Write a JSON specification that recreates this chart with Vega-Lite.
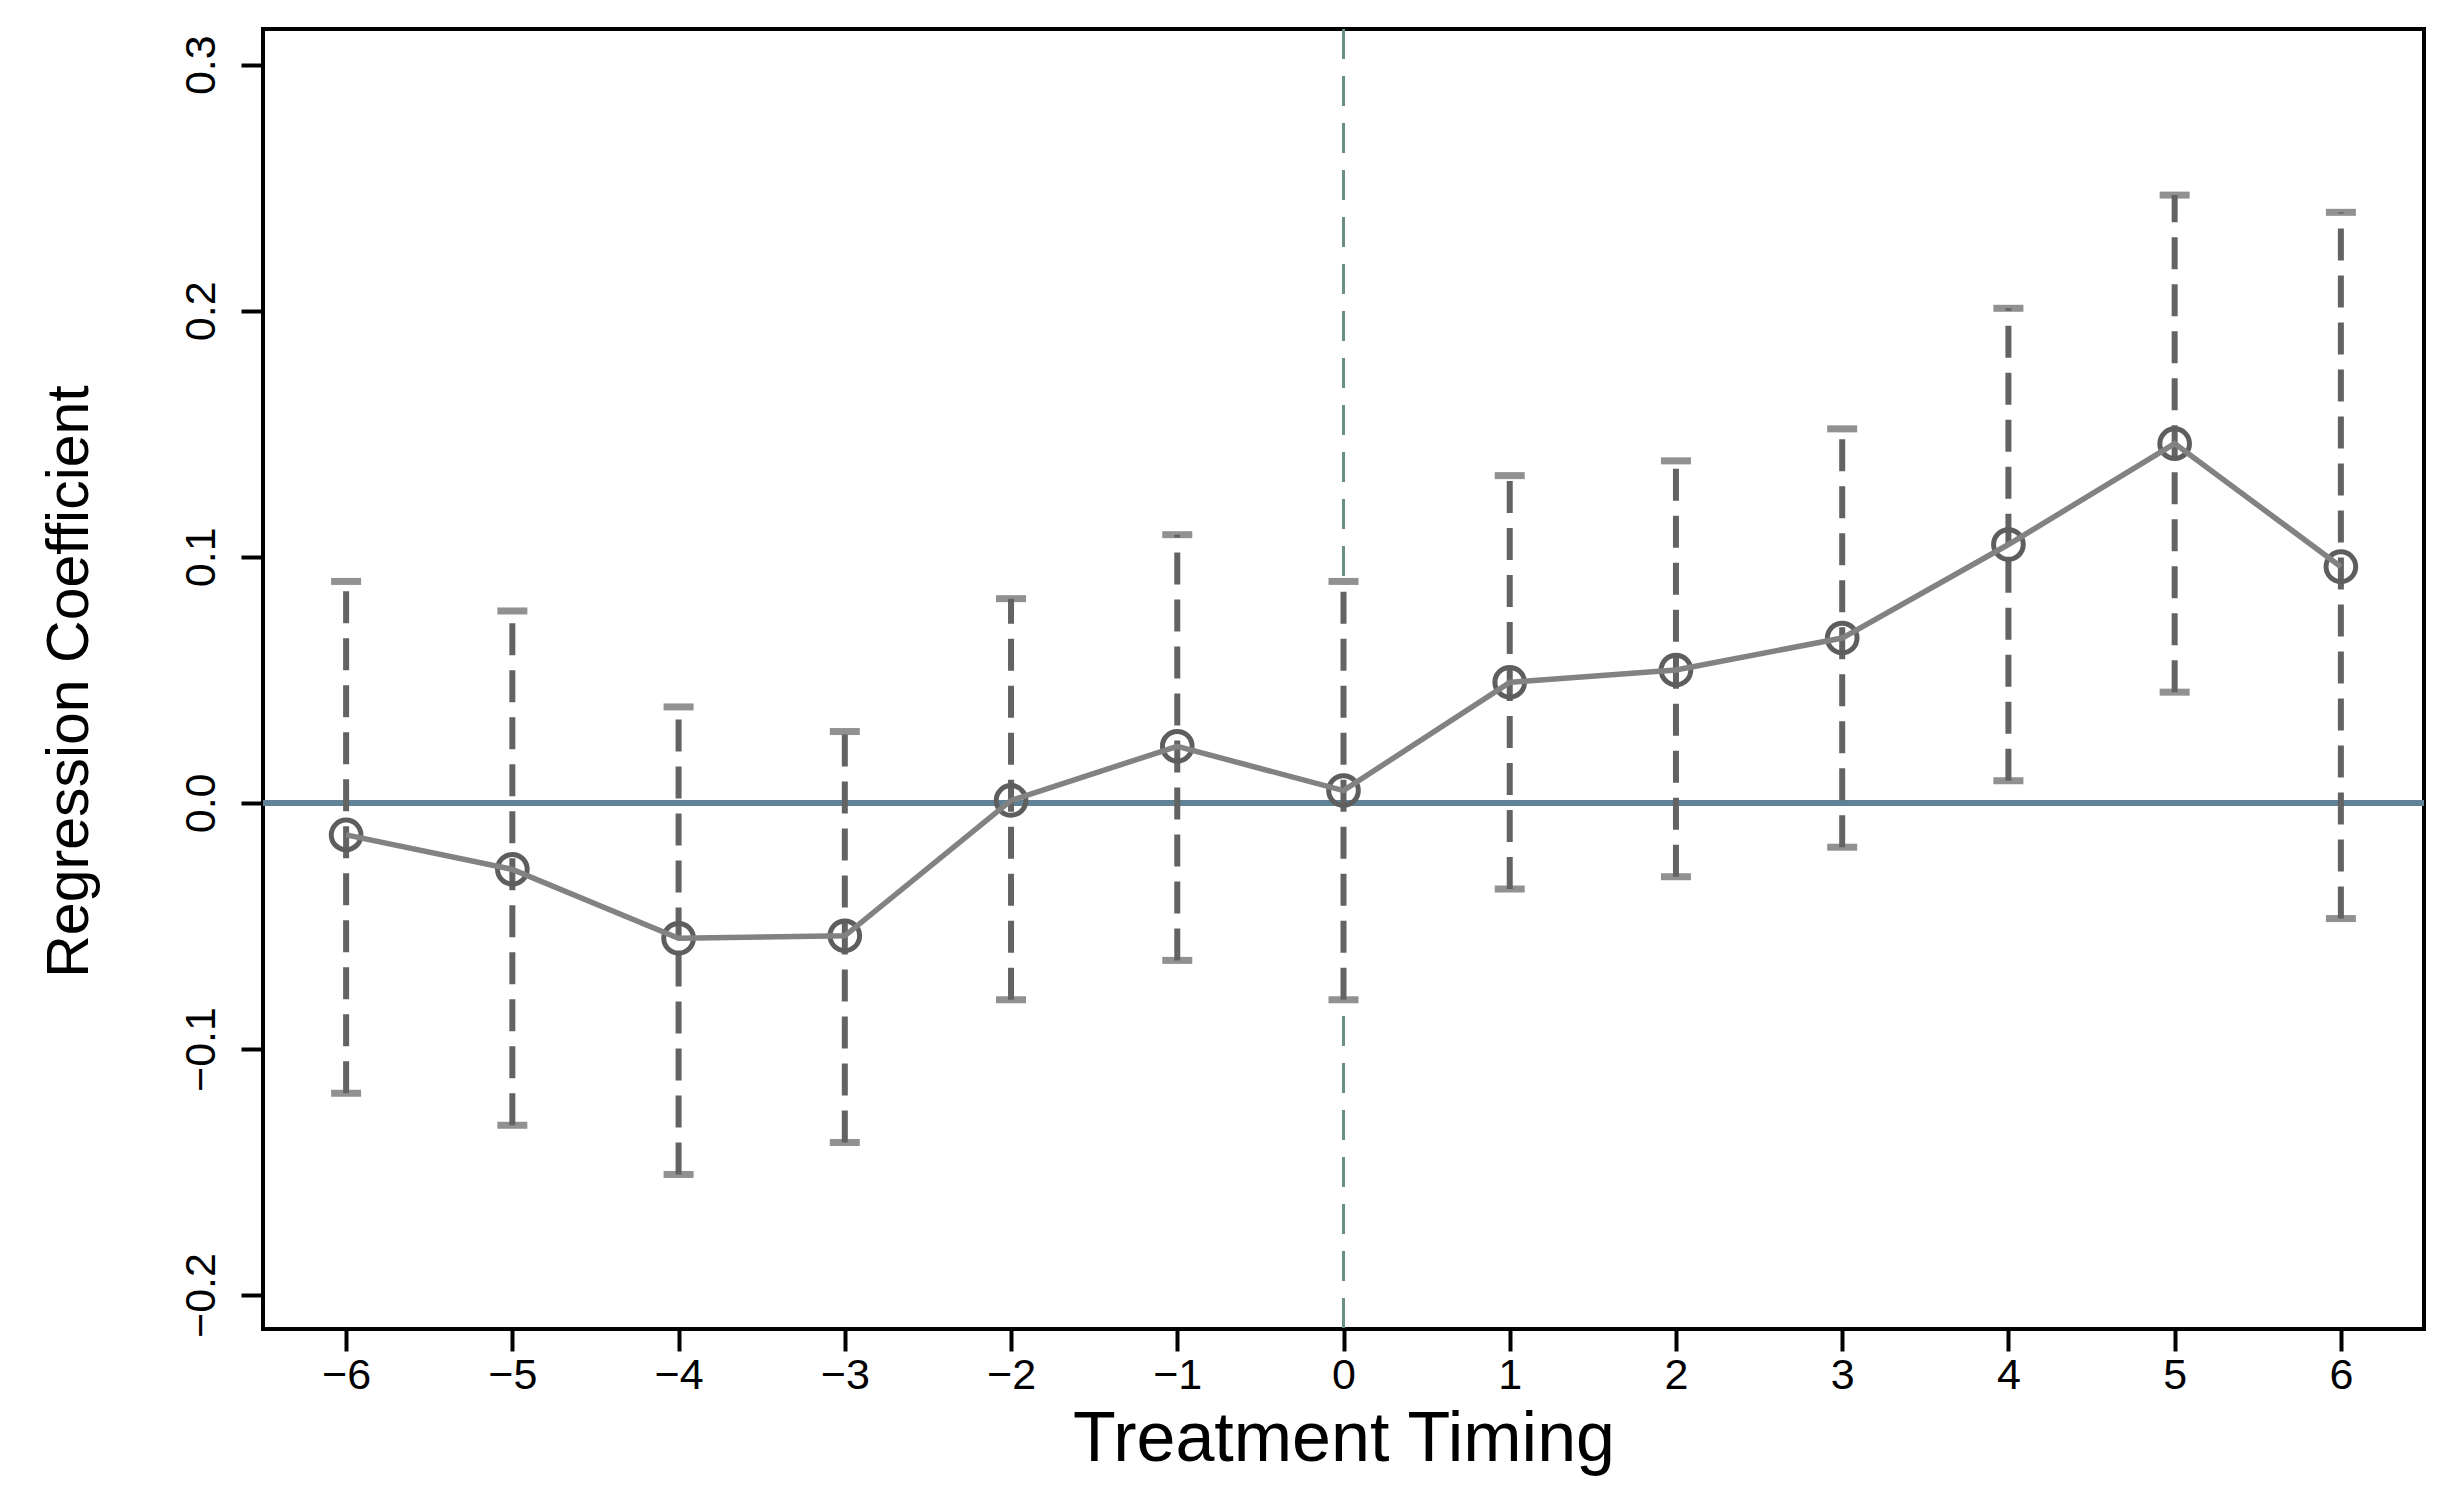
{
  "$schema": "https://vega.github.io/schema/vega-lite/v6.json",
  "width": 2161,
  "height": 1300,
  "autosize": {"type": "none"},
  "padding": {"left": 263, "top": 29, "right": 36, "bottom": 163},
  "background": "white",
  "config": {
    "view": {"stroke": "black", "strokeWidth": 4},
    "font": "Liberation Sans"
  },
  "data": {
    "values": [
      {"t": -6, "b": -0.013, "lo": -0.118, "hi": 0.090},
      {"t": -5, "b": -0.027, "lo": -0.131, "hi": 0.078},
      {"t": -4, "b": -0.055, "lo": -0.151, "hi": 0.039},
      {"t": -3, "b": -0.054, "lo": -0.138, "hi": 0.029},
      {"t": -2, "b": 0.001, "lo": -0.080, "hi": 0.083},
      {"t": -1, "b": 0.023, "lo": -0.064, "hi": 0.109},
      {"t": 0, "b": 0.005, "lo": -0.080, "hi": 0.090},
      {"t": 1, "b": 0.049, "lo": -0.035, "hi": 0.133},
      {"t": 2, "b": 0.054, "lo": -0.030, "hi": 0.139},
      {"t": 3, "b": 0.067, "lo": -0.018, "hi": 0.152},
      {"t": 4, "b": 0.105, "lo": 0.009, "hi": 0.201},
      {"t": 5, "b": 0.146, "lo": 0.045, "hi": 0.247},
      {"t": 6, "b": 0.096, "lo": -0.047, "hi": 0.240}
    ]
  },
  "encoding": {
    "x": {
      "field": "t", "type": "quantitative",
      "scale": {"domain": [-6.5, 6.5], "nice": false, "zero": false},
      "axis": {
        "title": "Treatment Timing",
        "values": [-6, -5, -4, -3, -2, -1, 0, 1, 2, 3, 4, 5, 6],
        "grid": false, "domain": false,
        "ticks": true, "tickSize": 22, "tickWidth": 4, "tickColor": "black",
        "labelFont": "Liberation Sans", "labelFontSize": 43, "labelColor": "black",
        "labelPadding": 3, "labelFlush": false, "labelOverlap": false,
        "titleFont": "Liberation Sans", "titleFontSize": 70, "titleFontWeight": "normal",
        "titleColor": "black", "titleY": 131, "titleBaseline": "alphabetic"
      }
    }
  },
  "layer": [
    {
      "mark": {"type": "rule", "color": "#6a9086", "strokeWidth": 3, "strokeDash": [30, 17]},
      "encoding": {"x": {"datum": 0}}
    },
    {
      "mark": {"type": "rule", "color": "#5f8296", "strokeWidth": 6},
      "encoding": {
        "x": {"datum": -6.5},
        "x2": {"datum": 6.5},
        "y": {"datum": 0, "type": "quantitative"}
      }
    },
    {
      "mark": {"type": "rule", "color": "#636363", "strokeWidth": 6, "strokeDash": [32, 15], "strokeCap": "butt"},
      "encoding": {
        "y": {
          "field": "lo", "type": "quantitative",
          "scale": {"domain": [-0.2138, 0.3145], "nice": false, "zero": false},
          "axis": {
            "title": "Regression Coefficient",
            "values": [-0.2, -0.1, 0, 0.1, 0.2, 0.3],
            "format": ".1f",
            "grid": false, "domain": false,
            "ticks": true, "tickSize": 22, "tickWidth": 4, "tickColor": "black",
            "labelFont": "Liberation Sans", "labelFontSize": 43, "labelColor": "black",
            "labelAngle": 270, "labelAlign": "center", "labelBaseline": "bottom",
            "labelPadding": 18, "labelFlush": false, "labelOverlap": false,
            "titleFont": "Liberation Sans", "titleFontSize": 59, "titleFontWeight": "normal",
            "titleColor": "black", "titleAngle": 270, "titleAlign": "center",
            "titleBaseline": "alphabetic", "titleX": -176, "titleY": 652
          }
        },
        "y2": {"field": "hi"}
      }
    },
    {
      "mark": {"type": "tick", "orient": "horizontal", "color": "#626262", "size": 30, "thickness": 7},
      "encoding": {"y": {"field": "hi", "type": "quantitative"}}
    },
    {
      "mark": {"type": "tick", "orient": "horizontal", "color": "#626262", "size": 30, "thickness": 7},
      "encoding": {"y": {"field": "lo", "type": "quantitative"}}
    },
    {
      "mark": {"type": "point", "shape": "circle", "filled": false, "stroke": "#5e5e5e", "strokeWidth": 5, "size": 880, "opacity": 1},
      "encoding": {"y": {"field": "b", "type": "quantitative"}}
    },
    {
      "mark": {"type": "line", "color": "#828282", "strokeWidth": 5.5},
      "encoding": {"y": {"field": "b", "type": "quantitative"}}
    }
  ]
}
